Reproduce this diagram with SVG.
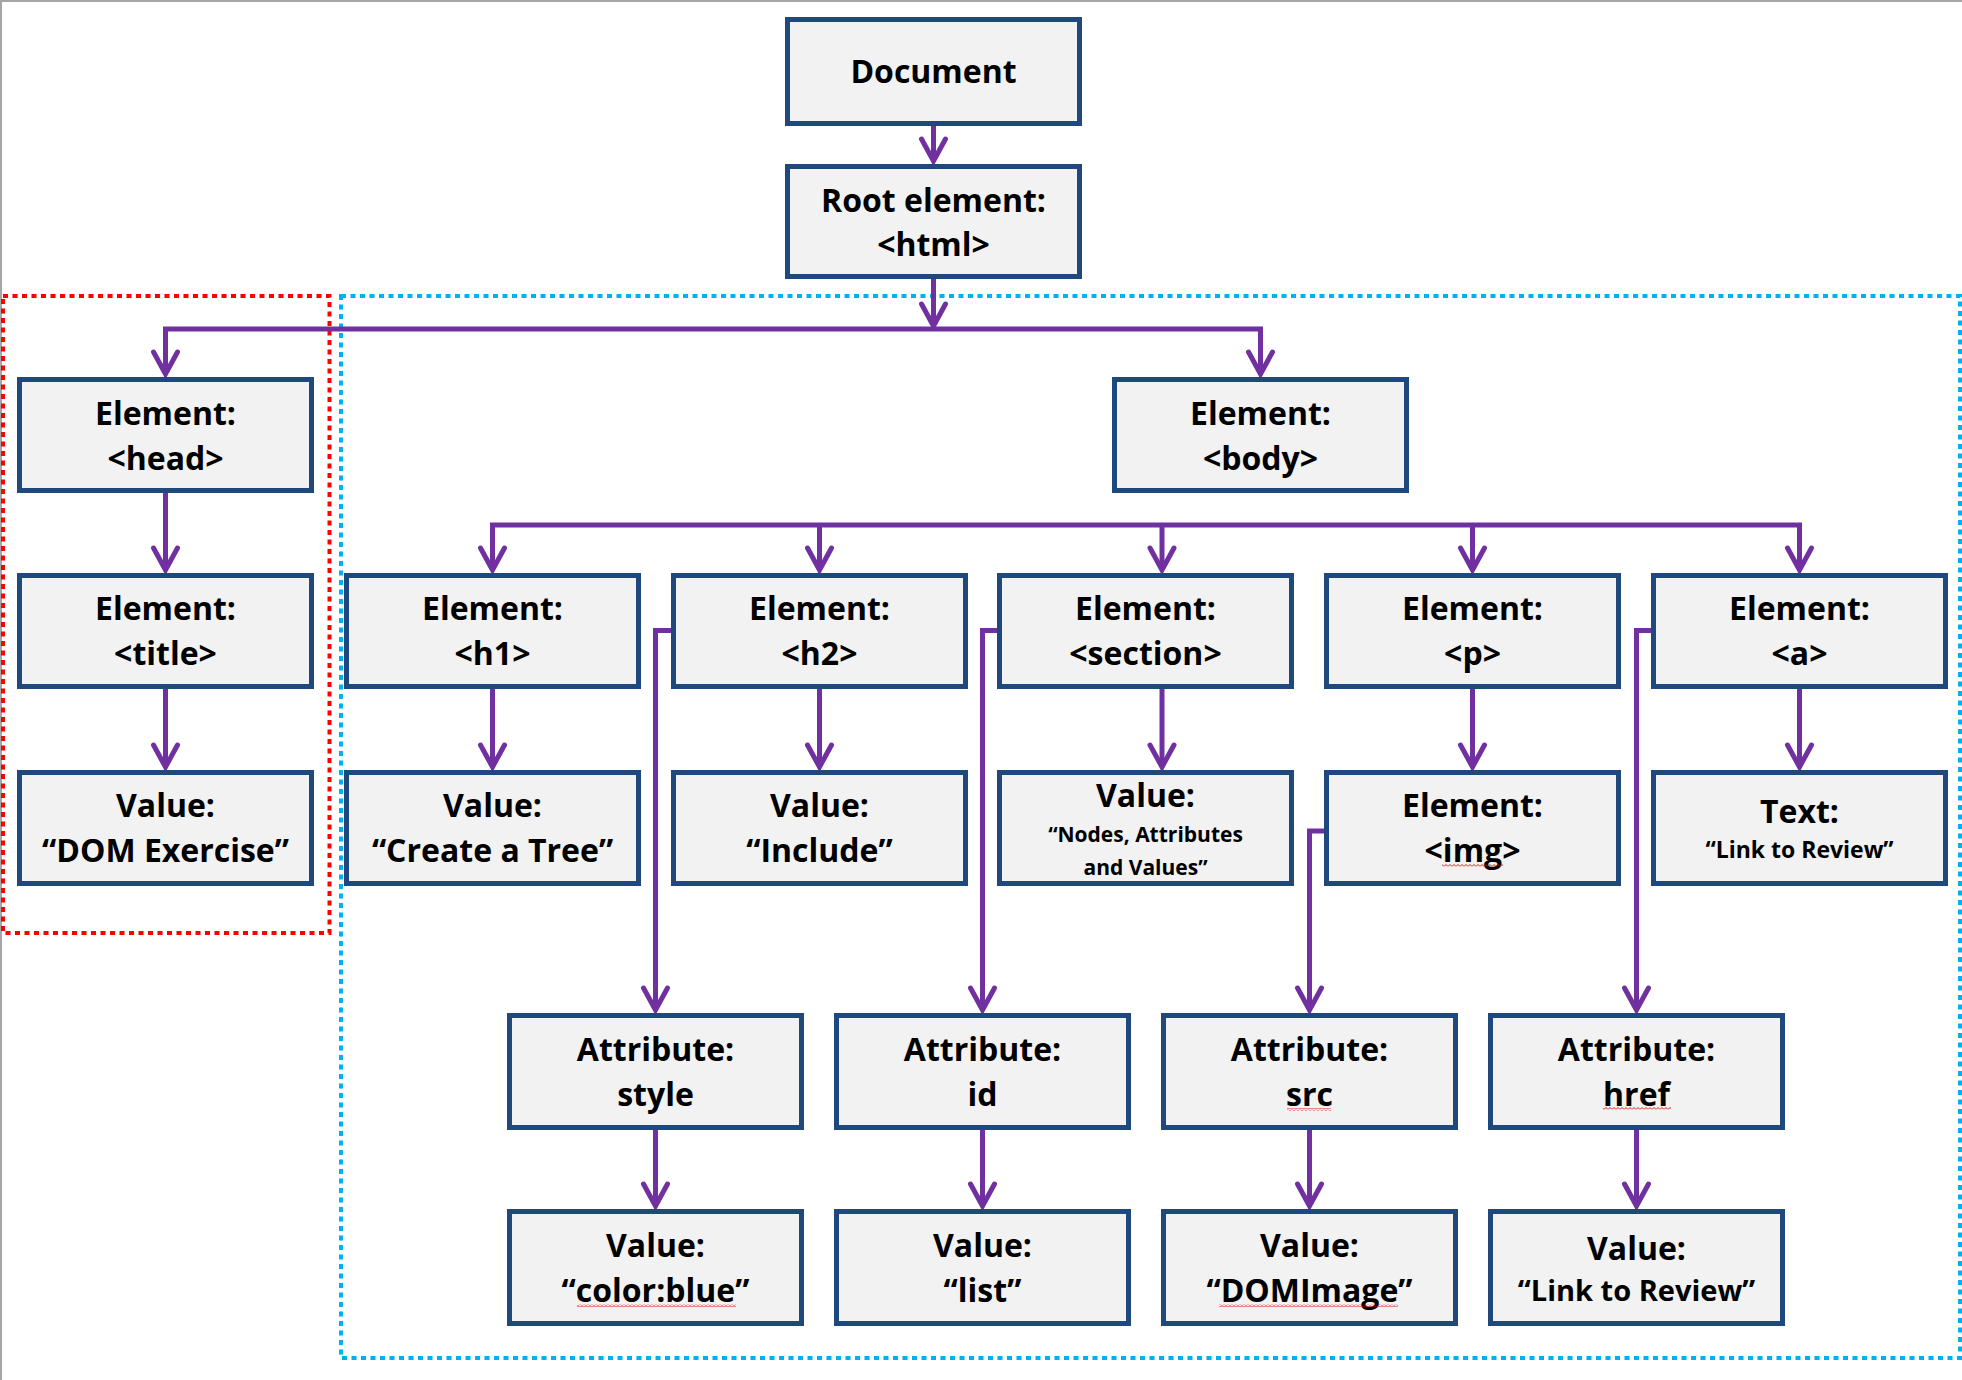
<svg xmlns="http://www.w3.org/2000/svg" width="1962" height="1380" viewBox="0 0 1962 1380">
<defs>
<style>
.box{fill:#F2F2F2;stroke:#1F497D;stroke-width:5}
.t{font-family:"Open Sans","Liberation Sans",sans-serif;font-weight:700;font-size:32px;text-anchor:middle;fill:#000}
.s{font-size:21px}
.m{font-size:23px}
.l{font-size:29px}
.c{fill:none;stroke:#7030A0;stroke-width:5}
.ca{fill:none;stroke:#7030A0;stroke-width:5;marker-end:url(#arr)}
.sq{fill:url(#squig)}
</style>
<marker id="arr" markerUnits="userSpaceOnUse" markerWidth="40" markerHeight="40" viewBox="-30 -20 40 40" refX="0" refY="0" orient="auto">
<path d="M-22,-12 L0,0 L-22,12" fill="none" stroke="#7030A0" stroke-width="5" stroke-linecap="round" stroke-linejoin="miter"/>
</marker>
<pattern id="squig" patternUnits="userSpaceOnUse" width="4" height="3">
<polyline points="0,2.5 2,0.5 4,2.5" fill="none" stroke="#E00000" stroke-width="0.9"/>
</pattern>
</defs>
<rect x="0" y="0" width="1962" height="1380" fill="#FFFFFF"/>
<path d="M0,1 H1962 M1,0 V1380" stroke="#A6A6A6" stroke-width="2" fill="none"/>

<g id="groups">
<rect id="head-group" x="341" y="296" width="1619" height="1062" fill="none" stroke="#00B0F0" stroke-width="4" stroke-dasharray="5 4.5"/>
<rect id="body-group" x="3" y="296" width="326.5" height="637" fill="none" stroke="#FF0000" stroke-width="4" stroke-dasharray="5 4.5"/>
</g>

<g id="connectors">
<path class="ca" d="M933.5,126 V161"/>
<path class="ca" d="M933.5,279 V326"/>
<path class="c" d="M165.5,329 H1260.5" stroke-linecap="square"/>
<path class="ca" d="M165.5,329 V374"/>
<path class="ca" d="M1260.5,329 V374"/>
<path class="ca" d="M165.5,493 V570"/>
<path class="ca" d="M165.5,689 V767"/>
<path class="c" d="M492.5,525 H1799.5" stroke-linecap="square"/>
<path class="ca" d="M492.5,525 V570"/>
<path class="ca" d="M819.5,525 V570"/>
<path class="ca" d="M1162,525 V570"/>
<path class="ca" d="M1472.5,525 V570"/>
<path class="ca" d="M1799.5,525 V570"/>
<path class="ca" d="M492.5,689 V767"/>
<path class="ca" d="M819.5,689 V767"/>
<path class="ca" d="M1162,689 V767"/>
<path class="ca" d="M1472.5,689 V767"/>
<path class="ca" d="M1799.5,689 V767"/>
<path class="ca" d="M671,630.5 H655.5 V1010"/>
<path class="ca" d="M997,630.5 H982.5 V1010"/>
<path class="ca" d="M1324,831 H1309.5 V1010"/>
<path class="ca" d="M1651,630.5 H1636.5 V1010"/>
<path class="ca" d="M655.5,1130 V1206"/>
<path class="ca" d="M982.5,1130 V1206"/>
<path class="ca" d="M1309.5,1130 V1206"/>
<path class="ca" d="M1636.5,1130 V1206"/>
</g>

<g id="document"><rect class="box" x="787.5" y="19.5" width="292" height="104"/><text class="t" x="933.5" y="83">Document</text></g>
<g id="root"><rect class="box" x="787.5" y="166.5" width="292" height="110"/><text class="t" x="933.5" y="212">Root element:</text><text class="t" x="933.5" y="256">&lt;html&gt;</text></g>

<g id="head"><rect class="box" x="19.5" y="379.5" width="292" height="111"/><text class="t" x="165.5" y="425">Element:</text><text class="t" x="165.5" y="470">&lt;head&gt;</text></g>
<g id="body"><rect class="box" x="1114.5" y="379.5" width="292" height="111"/><text class="t" x="1260.5" y="425">Element:</text><text class="t" x="1260.5" y="470">&lt;body&gt;</text></g>

<g id="title"><rect class="box" x="19.5" y="575.5" width="292" height="111"/><text class="t" x="165.5" y="620">Element:</text><text class="t" x="165.5" y="665">&lt;title&gt;</text></g>
<g id="h1"><rect class="box" x="346.5" y="575.5" width="292" height="111"/><text class="t" x="492.5" y="620">Element:</text><text class="t" x="492.5" y="665">&lt;h1&gt;</text></g>
<g id="h2"><rect class="box" x="673.5" y="575.5" width="292" height="111"/><text class="t" x="819.5" y="620">Element:</text><text class="t" x="819.5" y="665">&lt;h2&gt;</text></g>
<g id="section"><rect class="box" x="999.5" y="575.5" width="292" height="111"/><text class="t" x="1145.5" y="620">Element:</text><text class="t" x="1145.5" y="665">&lt;section&gt;</text></g>
<g id="p"><rect class="box" x="1326.5" y="575.5" width="292" height="111"/><text class="t" x="1472.5" y="620">Element:</text><text class="t" x="1472.5" y="665">&lt;p&gt;</text></g>
<g id="a"><rect class="box" x="1653.5" y="575.5" width="292" height="111"/><text class="t" x="1799.5" y="620">Element:</text><text class="t" x="1799.5" y="665">&lt;a&gt;</text></g>

<g id="title-value"><rect class="box" x="19.5" y="772.5" width="292" height="111"/><text class="t" x="165.5" y="817">Value:</text><text class="t" x="165.5" y="862">“DOM Exercise”</text></g>
<g id="h1-value"><rect class="box" x="346.5" y="772.5" width="292" height="111"/><text class="t" x="492.5" y="817">Value:</text><text class="t" x="492.5" y="862">“Create a Tree”</text></g>
<g id="h2-value"><rect class="box" x="673.5" y="772.5" width="292" height="111"/><text class="t" x="819.5" y="817">Value:</text><text class="t" x="819.5" y="862">“Include”</text></g>
<g id="section-value"><rect class="box" x="999.5" y="772.5" width="292" height="111"/><text class="t" x="1145.5" y="807">Value:</text><text class="t s" x="1145.5" y="842">“Nodes, Attributes</text><text class="t s" x="1145.5" y="875">and Values”</text></g>
<g id="img"><rect class="box" x="1326.5" y="772.5" width="292" height="111"/><text class="t" x="1472.5" y="817">Element:</text><text class="t" x="1472.5" y="862">&lt;img&gt;</text><rect class="sq" x="1442" y="864" width="61" height="3"/></g>
<g id="a-text"><rect class="box" x="1653.5" y="772.5" width="292" height="111"/><text class="t" x="1799.5" y="823">Text:</text><text class="t m" x="1799.5" y="858">“Link to Review”</text></g>

<g id="attr-style"><rect class="box" x="509.5" y="1015.5" width="292" height="112"/><text class="t" x="655.5" y="1061">Attribute:</text><text class="t" x="655.5" y="1106">style</text></g>
<g id="attr-id"><rect class="box" x="836.5" y="1015.5" width="292" height="112"/><text class="t" x="982.5" y="1061">Attribute:</text><text class="t" x="982.5" y="1106">id</text></g>
<g id="attr-src"><rect class="box" x="1163.5" y="1015.5" width="292" height="112"/><text class="t" x="1309.5" y="1061">Attribute:</text><text class="t" x="1309.5" y="1106">src</text><rect class="sq" x="1287" y="1108" width="44" height="3"/></g>
<g id="attr-href"><rect class="box" x="1490.5" y="1015.5" width="292" height="112"/><text class="t" x="1636.5" y="1061">Attribute:</text><text class="t" x="1636.5" y="1106">href</text><rect class="sq" x="1603" y="1107" width="68" height="3"/></g>

<g id="style-value"><rect class="box" x="509.5" y="1211.5" width="292" height="112"/><text class="t" x="655.5" y="1257">Value:</text><text class="t" x="655.5" y="1302">“color:blue”</text><rect class="sq" x="577" y="1304" width="159" height="3"/></g>
<g id="id-value"><rect class="box" x="836.5" y="1211.5" width="292" height="112"/><text class="t" x="982.5" y="1257">Value:</text><text class="t" x="982.5" y="1302">“list”</text></g>
<g id="src-value"><rect class="box" x="1163.5" y="1211.5" width="292" height="112"/><text class="t" x="1309.5" y="1257">Value:</text><text class="t" x="1309.5" y="1302">“DOMImage”</text><rect class="sq" x="1219" y="1304" width="179" height="3"/></g>
<g id="href-value"><rect class="box" x="1490.5" y="1211.5" width="292" height="112"/><text class="t" x="1636.5" y="1260">Value:</text><text class="t l" x="1636.5" y="1301">“Link to Review”</text></g>
</svg>
